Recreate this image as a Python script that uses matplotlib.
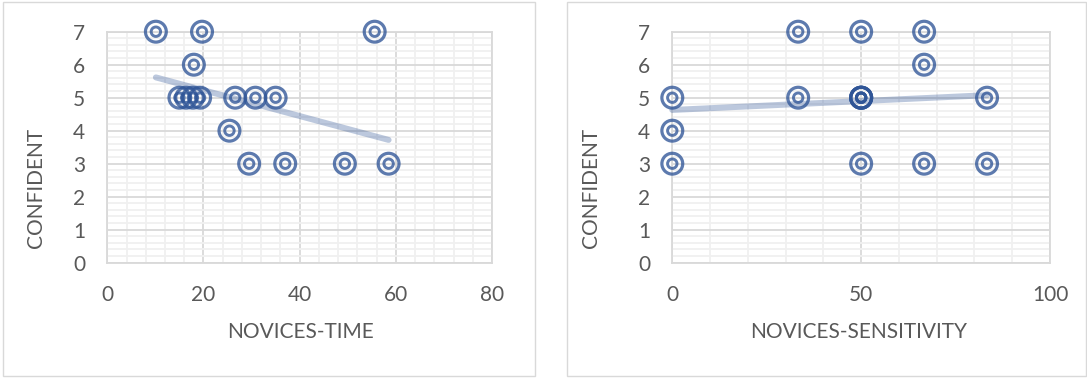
import numpy as np
import matplotlib
matplotlib.use("Agg")
import matplotlib.pyplot as plt
from matplotlib.patches import Rectangle
from matplotlib.ticker import MultipleLocator

plt.rcParams['font.family'] = ['Lato', 'DejaVu Sans']

# Novices: completion time vs. confidence rating
time_x = [10.1, 19.7, 55.6, 18.0, 15.0, 16.4, 17.8, 19.3, 26.6, 30.8, 35.0,
          25.4, 29.5, 37.0, 49.4, 58.5]
time_y = [7, 7, 7, 6, 5, 5, 5, 5, 5, 5, 5, 4, 3, 3, 3, 3]

# Novices: sensitivity (%) vs. confidence rating
sens_x = [33.33, 50, 66.67, 66.67, 0, 33.33, 50, 50, 50, 50, 83.33,
          0, 0, 50, 66.67, 83.33]
sens_y = [7, 7, 7, 6, 5, 5, 5, 5, 5, 5, 5, 4, 3, 3, 3, 3]

W, H = 1087, 378
DPI = 100
fig = plt.figure(figsize=(W / DPI, H / DPI), dpi=DPI)

TEXT = '#595959'
MAJOR = '#d9d9d9'
MINOR = '#f0f0f0'
MARK = '#2F5597'


def fx(px):
    return px / W


def fy(py):
    return 1 - py / H


# outer panel frames
for x0, x1 in [(3, 535), (566.5, 1085.5)]:
    fig.patches.append(Rectangle((fx(x0), fy(376)), fx(x1 - x0), (376 - 2) / H,
                                 transform=fig.transFigure, fill=False,
                                 edgecolor='#d9d9d9', linewidth=1.0))


def panel(left_px, right_px, xs, ys, xmax, xmajor, xminor, xlabel,
          xlabel_cx, ylabel_cx):
    top_px, bot_px = 31.7, 262.7
    ax = fig.add_axes([fx(left_px), fy(bot_px), fx(right_px - left_px),
                       (bot_px - top_px) / H])
    ax.set_xlim(0, xmax)
    ax.set_ylim(0, 7)
    ax.xaxis.set_major_locator(MultipleLocator(xmajor))
    ax.xaxis.set_minor_locator(MultipleLocator(xminor))
    ax.yaxis.set_major_locator(MultipleLocator(1))
    ax.yaxis.set_minor_locator(MultipleLocator(0.2))
    ax.grid(which='minor', color=MINOR, linewidth=1.3, zorder=0)
    ax.grid(which='major', color=MAJOR, linewidth=1.3, zorder=0.5)
    ax.set_axisbelow(True)
    for s in ax.spines.values():
        s.set_color(MAJOR)
        s.set_linewidth(1.3)
    ax.tick_params(which='both', length=0, labelsize=15, labelcolor=TEXT,
                   pad=16)
    for lab in ax.get_xticklabels() + ax.get_yticklabels():
        lab.set_color(TEXT)

    # double-ring markers
    ax.scatter(xs, ys, s=225, facecolors='none', edgecolors=MARK,
               linewidths=2.3, alpha=0.78, zorder=3, clip_on=False)
    ax.scatter(xs, ys, s=46, facecolors='none', edgecolors=MARK,
               linewidths=2.1, alpha=0.78, zorder=3, clip_on=False)

    # linear trendline over the data range
    k, b = np.polyfit(xs, ys, 1)
    tx = np.array([min(xs), max(xs)])
    ax.plot(tx, k * tx + b, color=MARK, alpha=0.32, linewidth=4.3,
            solid_capstyle='round', zorder=4, clip_on=False)

    fig.text(fx(xlabel_cx), fy(332.3), xlabel, ha='center', va='center',
             fontsize=15, color=TEXT)
    fig.text(fx(ylabel_cx), fy(188), 'CONFIDENT', ha='center', va='center',
             rotation=90, fontsize=15, color=TEXT)
    return ax


panel(107.3, 492.0, time_x, time_y, 80, 20, 4, 'NOVICES-TIME', 300.8, 36)
panel(672.3, 1050.0, sens_x, sens_y, 100, 50, 10, 'NOVICES-SENSITIVITY',
      859, 591)

fig.savefig('out.png', dpi=DPI)
